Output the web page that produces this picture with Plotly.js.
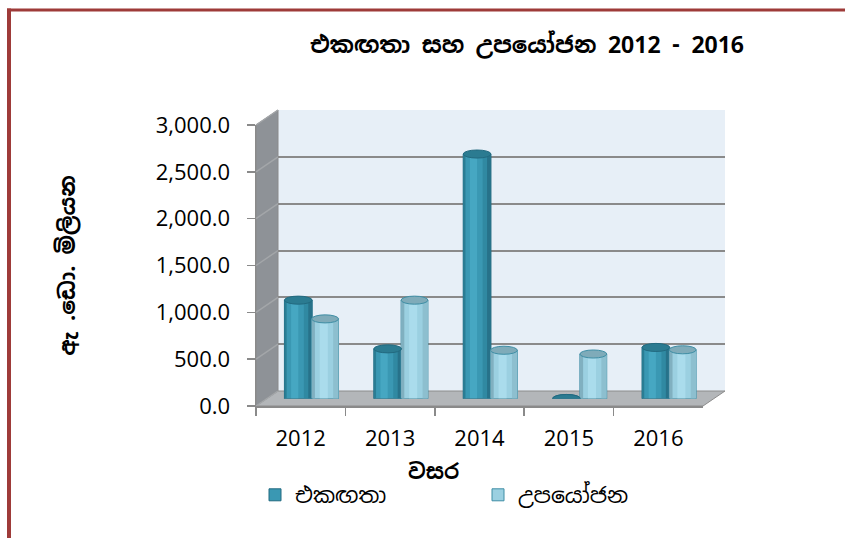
<!DOCTYPE html>
<html>
<head>
<meta charset="utf-8">
<script src="https://cdn.plot.ly/plotly-3.0.1.min.js"></script>
<style>html,body{margin:0;padding:0;background:#fff;}#chart{width:845px;height:538px;}</style>
</head>
<body>
<div id="chart"></div>
<script>
// ---- data ----
const categories = ['2012', '2013', '2014', '2015', '2016'];
const ekagatha = [1050, 530, 2610, 0, 545];      // එකඟතා
const upayojana = [850, 1050, 515, 475, 520];    // උපයෝජන
const seriesNames = ['එකඟතා', 'උපයෝජන'];
const yTickVals = [0, 500, 1000, 1500, 2000, 2500, 3000];
const chartTitle = 'එකඟතා සහ උපයෝජන 2012 - 2016';
const xTitle = 'වසර';
const yTitle = 'ඇ .ඩො. මිලියන';

// ---- geometry (pixels) ----
const W = 845, H = 538;
const FX0 = 256, FX1 = 703, FY0 = 406, FY1 = 125;  // front axis box
const DX = 22, DY = -15;                           // back wall offset
const MX = 11, MY = -7.5;                          // bar depth offset
const px = x => x / W, py = y => 1 - y / H;

const SIN = "'Noto Sans Sinhala','Iskoola Pota','Noto Serif Sinhala','Noto Sans','DejaVu Sans',sans-serif";
const NUM = "'Open Sans','Liberation Sans',sans-serif";

// cylinder bands: [start fraction, end fraction, color]; first band = full body (legend colour)
const darkBands = [[0, 1, '#3a98b3'], [0, 0.08, '#2a7d94'], [0.7, 1, '#3089a2'], [0.86, 1, '#27728a'], [0.24, 0.5, '#46a7c2']];
const lightBands = [[0, 1, '#9bd0e1'], [0, 0.12, '#80b0c0'], [0.8, 1, '#8dbfcf'], [0.3, 0.6, '#aadcec']];
const darkSlot = [-0.305, 0.31], lightSlot = [0.0, 0.30];
const xRange = [-0.5, categories.length - 0.5];

const traces = [];
// carrier traces so the back-wall and front-axis subplots are drawn
traces.push({ type: 'scatter', mode: 'none', x: categories, y: ekagatha, xaxis: 'x', yaxis: 'y', showlegend: false, hoverinfo: 'skip' });
traces.push({ type: 'scatter', mode: 'none', x: categories, y: upayojana, xaxis: 'x2', yaxis: 'y2', showlegend: false, hoverinfo: 'skip' });

function addCylinder(vals, bands, slot, name, lineColor) {
  bands.forEach((b, k) => {
    traces.push({
      type: 'bar', x: categories, y: vals, xaxis: 'x3', yaxis: 'y3',
      name: name, showlegend: k === 0, legendgroup: name,
      offset: slot[0] + b[0] * slot[1], width: (b[1] - b[0]) * slot[1],
      marker: { color: b[2], line: { color: lineColor, width: k === 0 ? 1 : 0 } },
      hoverinfo: 'skip'
    });
  });
}
addCylinder(ekagatha, darkBands, darkSlot, seriesNames[0], '#226a80');
addCylinder(upayojana, lightBands, lightSlot, seriesNames[1], '#3f8ea5');

// ---- decoration shapes ----
const shapes = [];
const poly = pts => 'M' + pts.map(p => px(p[0]) + ',' + py(p[1])).join('L') + 'Z';
// back wall
shapes.push({ type: 'path', xref: 'paper', yref: 'paper', layer: 'below',
  path: poly([[FX0 + DX, FY0 + DY], [FX1 + DX, FY0 + DY], [FX1 + DX, FY1 + DY], [FX0 + DX, FY1 + DY]]),
  fillcolor: '#e7eff7', line: { width: 0 } });
// side wall
shapes.push({ type: 'path', xref: 'paper', yref: 'paper', layer: 'below',
  path: poly([[FX0, FY0], [FX0, FY1], [FX0 + DX, FY1 + DY], [FX0 + DX, FY0 + DY]]),
  fillcolor: '#8e9297', line: { color: '#8a8a8a', width: 1 } });
// floor
shapes.push({ type: 'path', xref: 'paper', yref: 'paper', layer: 'below',
  path: poly([[FX0, FY0], [FX1, FY0], [FX1 + DX, FY0 + DY], [FX0 + DX, FY0 + DY]]),
  fillcolor: '#b3b6b9', line: { color: '#8c8c8c', width: 1 } });
// side-wall grid diagonals
yTickVals.forEach(v => {
  const fy = FY0 - (FY0 - FY1) * v / 3000;
  shapes.push({ type: 'line', xref: 'paper', yref: 'paper', layer: 'below',
    x0: px(FX0), y0: py(fy), x1: px(FX0 + DX), y1: py(fy + DY),
    line: { color: '#a3a6a9', width: 1.5 } });
});
// frame lines
shapes.push({ type: 'line', xref: 'paper', yref: 'paper', x0: px(7), x1: 1, y0: py(10), y1: py(10),
  line: { color: '#9e3b39', width: 3 } });
shapes.push({ type: 'line', xref: 'paper', yref: 'paper', x0: px(9), x1: px(9), y0: py(8.5), y1: 0,
  line: { color: '#9e3b39', width: 4 } });

// cylinder ellipses
const EH = 43; // half ellipse height in data units
function ellipses(vals, slot, topFill, topLine, botFill) {
  vals.forEach((v, i) => {
    const xa = i + slot[0], xb = i + slot[0] + slot[1];
    shapes.push({ type: 'circle', xref: 'x3', yref: 'y3', layer: 'between',
      x0: xa, x1: xb, y0: -EH, y1: EH, fillcolor: botFill, line: { color: topLine, width: 1 } });
    shapes.push({ type: 'circle', xref: 'x3', yref: 'y3', layer: 'above',
      x0: xa, x1: xb, y0: v - EH, y1: v + EH, fillcolor: topFill, line: { color: topLine, width: 1 } });
  });
}
ellipses(ekagatha, darkSlot, '#2b7b91', '#226a80', '#2f88a1');
ellipses(upayojana, lightSlot, '#7fabb9', '#3f8ea5', '#8cc3d4');

const hidden = { showticklabels: false, showgrid: false, zeroline: false, showline: false, ticks: '', fixedrange: true };

const layout = {
  width: W, height: H,
  margin: { l: 0, r: 0, t: 0, b: 0 },
  paper_bgcolor: '#ffffff', plot_bgcolor: 'rgba(0,0,0,0)',
  hovermode: false, barmode: 'overlay',
  title: { text: '<b>' + chartTitle + '</b>', font: { family: SIN, size: 23, color: '#000' },
    x: 527 / W, xanchor: 'center', y: py(45), yanchor: 'middle', xref: 'paper', yref: 'paper' },
  // back wall axes (grid)
  xaxis: Object.assign({}, hidden, { type: 'category', categoryarray: categories, range: xRange, domain: [px(FX0 + DX), px(FX1 + DX)], anchor: 'y' }),
  yaxis: Object.assign({}, hidden, { range: [0, 3000], domain: [py(FY0 + DY), py(FY1 + DY)], anchor: 'x',
    showgrid: true, tickvals: yTickVals, gridcolor: '#8a8a8a', gridwidth: 2 }),
  // front axes (labels)
  xaxis2: { type: 'category', categoryarray: categories, range: xRange, domain: [px(FX0), px(FX1)], anchor: 'y2',
    tickson: 'boundaries', ticks: 'outside', ticklen: 8, tickcolor: '#8a8a8a', tickwidth: 1.5,
    showline: true, linecolor: '#8a8a8a', linewidth: 1.5, showgrid: false, zeroline: false, fixedrange: true,
    tickfont: { family: NUM, size: 22, color: '#000' }, ticklabelstandoff: 12 },
  yaxis2: { range: [0, 3000], domain: [py(FY0), py(FY1)], anchor: 'x2', tickvals: yTickVals, tickformat: ',.1f',
    ticks: 'outside', ticklen: 8, tickcolor: '#8a8a8a', tickwidth: 1.5,
    showline: true, linecolor: '#8a8a8a', linewidth: 1.5, showgrid: false, zeroline: false, fixedrange: true,
    tickfont: { family: NUM, size: 22, color: '#000' }, ticklabelstandoff: 12,
    title: { text: '<b>' + yTitle + '</b>', font: { family: SIN, size: 22, color: '#000' }, standoff: 74 } },
  // bar axes (middle depth)
  xaxis3: Object.assign({}, hidden, { type: 'category', categoryarray: categories, range: xRange, domain: [px(FX0 + MX), px(FX1 + MX)], anchor: 'y3' }),
  yaxis3: Object.assign({}, hidden, { range: [0, 3000], domain: [py(FY0 + MY), py(FY1 + MY)], anchor: 'x3' }),
  annotations: [{ text: '<b>' + xTitle + '</b>', xref: 'paper', yref: 'paper', x: px(433), y: py(471),
    xanchor: 'center', yanchor: 'middle', showarrow: false, font: { family: SIN, size: 21, color: '#000' } }],
  legend: { orientation: 'h', x: 255 / W, xanchor: 'left', y: py(495), yanchor: 'middle',
    entrywidth: 178, entrywidthmode: 'pixels', font: { family: SIN, size: 22, color: '#000' },
    bgcolor: 'rgba(0,0,0,0)', traceorder: 'normal' },
  shapes: shapes
};

Plotly.newPlot('chart', traces, layout, { displayModeBar: false, staticPlot: true });
</script>
</body>
</html>
